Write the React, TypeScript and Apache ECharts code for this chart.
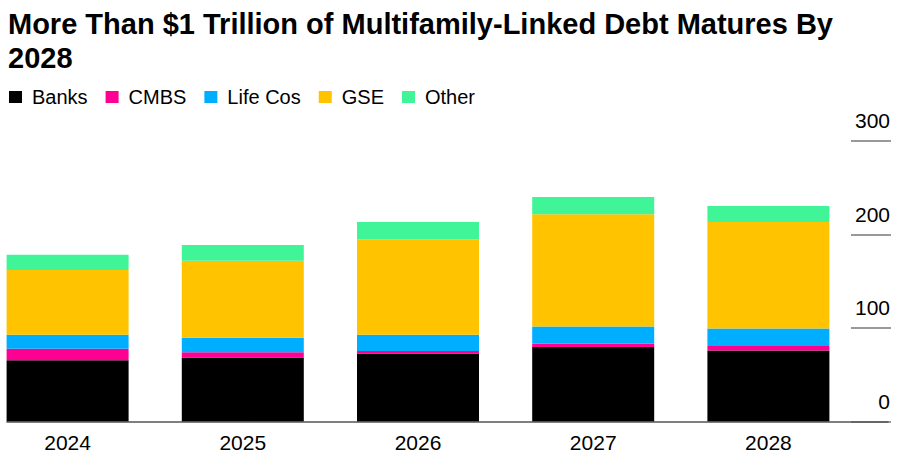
import React, { useEffect, useRef } from "react";
import * as echarts from "echarts";

const years = ["2024", "2025", "2026", "2027", "2028"];
const banks = [65.6, 68.5, 72.8, 79.8, 76.0];
const cmbs = [12.4, 5.6, 2.8, 3.6, 4.9];
const lifeCos = [14.9, 15.6, 17.4, 18.4, 18.8];
const gse = [69.1, 82.2, 102.1, 119.9, 113.8];
const other = [16.3, 17.0, 18.4, 18.4, 17.0];
const yTicks = [0, 100, 200, 300];

const FONT = '"Liberation Sans", Arial, Helvetica, sans-serif';

const seriesDefs = [
  { name: "Banks", data: banks, color: "#000000" },
  { name: "CMBS", data: cmbs, color: "#FF0092" },
  { name: "Life Cos", data: lifeCos, color: "#00AEFF" },
  { name: "GSE", data: gse, color: "#FFC300" },
  { name: "Other", data: other, color: "#40F597" },
];

export default function App() {
  const ref = useRef<HTMLDivElement>(null);
  useEffect(() => {
    if (!ref.current) return;
    const chart = echarts.init(ref.current, undefined, { renderer: "svg" });
    chart.setOption({
      animation: false,
      backgroundColor: "#ffffff",
      title: {
        text: "More Than $1 Trillion of Multifamily-Linked Debt Matures By\n2028",
        left: 8,
        top: 7,
        padding: 0,
        textStyle: {
          fontFamily: FONT,
          fontSize: 29,
          fontWeight: "bold",
          color: "#000000",
          lineHeight: 34,
        },
      },
      legend: {
        left: 9,
        top: 87,
        padding: 0,
        itemWidth: 13,
        itemHeight: 12,
        itemGap: 18,
        icon: "rect",
        selectedMode: false,
        textStyle: {
          fontFamily: FONT,
          fontSize: 20,
          color: "#000000",
          padding: [0, 0, 0, 5],
        },
        data: seriesDefs.map((s) => s.name),
      },
      grid: [
        {
          left: -20,
          right: 45,
          top: 141,
          bottom: 47.3,
          containLabel: false,
          outerBoundsMode: "none",
        },
        {
          left: 7,
          right: 13,
          top: 141,
          bottom: 47.3,
          containLabel: false,
          outerBoundsMode: "none",
        },
      ],
      xAxis: [
        {
          type: "category",
          gridIndex: 0,
          data: years,
          axisLine: { show: false },
          axisTick: { show: false },
          axisLabel: {
            fontFamily: FONT,
            fontSize: 21,
            color: "#000000",
            margin: 10,
          },
        },
        {
          type: "value",
          gridIndex: 1,
          min: 0,
          max: 1,
          z: 10,
          axisLine: { show: true, lineStyle: { color: "#555555", width: 1.5 } },
          axisTick: { show: false },
          axisLabel: { show: false },
          splitLine: { show: false },
        },
      ],
      yAxis: [
        {
          type: "value",
          gridIndex: 0,
          position: "right",
          offset: -5,
          min: yTicks[0],
          max: yTicks[yTicks.length - 1],
          interval: 100,
          axisLine: { show: false },
          axisTick: {
            show: true,
            length: 40,
            lineStyle: { color: "#999999", width: 2 },
          },
          splitLine: { show: false },
          axisLabel: {
            fontFamily: FONT,
            fontSize: 21,
            color: "#000000",
            margin: 39,
            align: "right",
            verticalAlign: "bottom",
            lineHeight: 21,
            padding: [0, 0, 10, 0],
          },
        },
        {
          type: "value",
          gridIndex: 1,
          show: false,
          min: 0,
          max: 1,
        },
      ],
      series: seriesDefs.map((s) => ({
        name: s.name,
        type: "bar",
        stack: "total",
        xAxisIndex: 0,
        yAxisIndex: 0,
        barWidth: 122,
        itemStyle: { color: s.color },
        data: s.data,
      })),
    });
    return () => chart.dispose();
  }, []);
  return (
    <div
      ref={ref}
      style={{ position: "absolute", left: 0, top: 0, width: 901, height: 469 }}
    />
  );
}
